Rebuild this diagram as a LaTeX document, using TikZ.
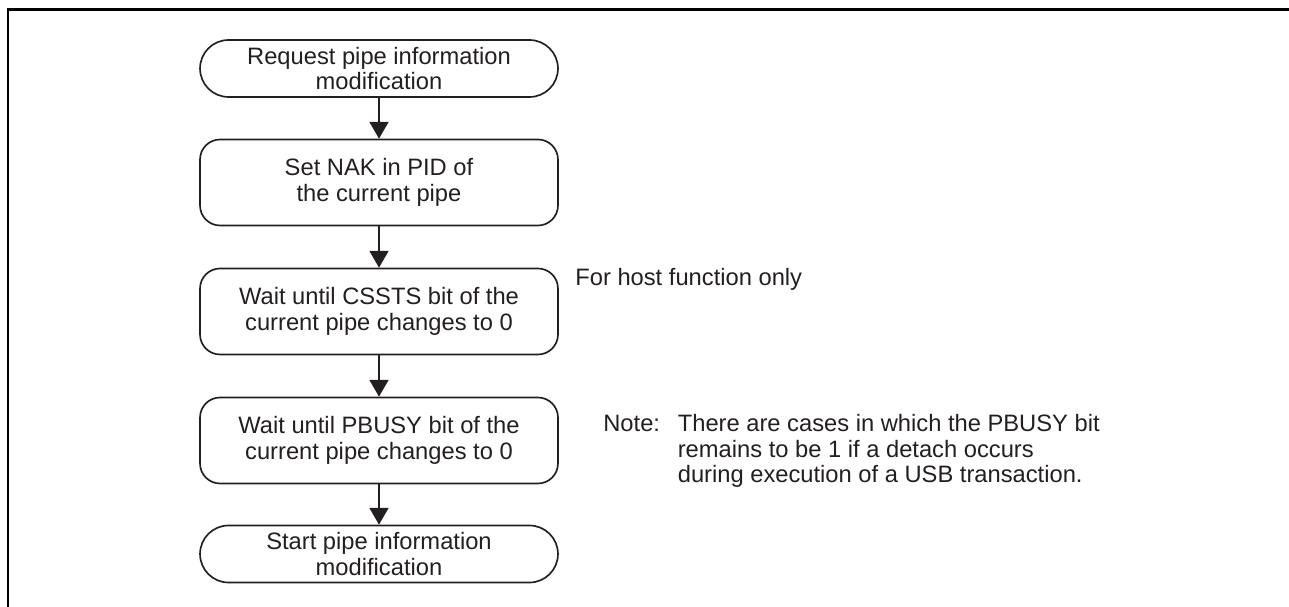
\documentclass[tikz,border=0pt]{standalone}
\usepackage{fontspec}
\setmainfont{Liberation Sans}
\usetikzlibrary{arrows.meta}
\definecolor{ink}{RGB}{35,31,32}

\begin{document}
\begin{tikzpicture}[x=0.02cm, y=-0.02cm, >={Triangle[width=10.8pt,length=9.6pt]},
  font=\fontsize{13.5}{14.5}\selectfont, ink,
  term/.style={draw, line width=0.95pt, minimum width=7.16cm, minimum height=1.14cm, rounded corners=0.57cm, align=center, inner sep=0pt},
  proc/.style={draw, line width=0.95pt, minimum width=7.16cm, minimum height=1.72cm, rounded corners=0.4cm, align=center, inner sep=0pt},
  flow/.style={->, line width=1.15pt}]
\useasboundingbox (0,0) rectangle (1289,607);
% frame
\draw[black, line width=1.7pt] (8,607) -- (8,10) -- (1289,10);
% flow boxes
\node[term] (req) at (379,68.5) {Request pipe information\\modification};
\node[proc] (nak) at (379,182.5) {Set NAK in PID of\\the current pipe};
\node[proc] (csst) at (379,311.5) {Wait until CSSTS bit of the\\current pipe changes to 0};
\node[proc] (pbsy) at (379,440.5) {Wait until PBUSY bit of the\\current pipe changes to 0};
\node[term] (strt) at (379,554) {Start pipe information\\modification};
% side remarks
\node[anchor=west, inner sep=0pt] (host) at (575,279) {For host function only};
\node[anchor=base west, inner sep=0pt] (note) at (603,432) {\begin{tabular}[t]{@{}l@{\hspace{0.75em}}l@{}}
Note: & There are cases in which the PBUSY bit\\
 & remains to be 1 if a detach occurs\\
 & during execution of a USB transaction.
\end{tabular}};
% arrows
\draw[flow] (req) -- (nak);
\draw[flow] (nak) -- (csst);
\draw[flow] (csst) -- (pbsy);
\draw[flow] (pbsy) -- (strt);
\end{tikzpicture}
\end{document}
